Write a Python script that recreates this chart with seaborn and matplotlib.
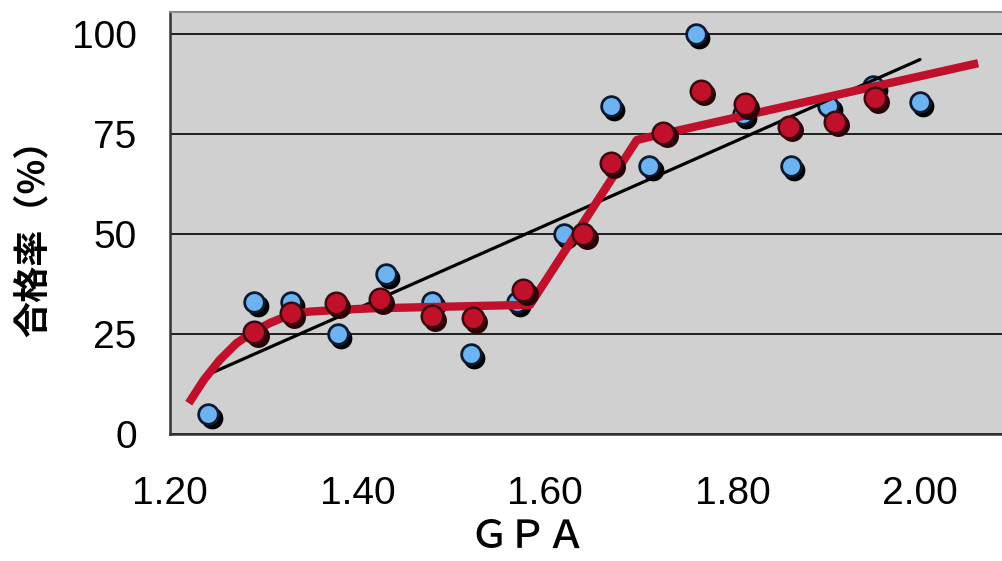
import matplotlib
matplotlib.use("agg")
import matplotlib.pyplot as plt
import matplotlib.transforms as mtransforms
from matplotlib import font_manager
import numpy as np
import pandas as pd
import seaborn as sns

# blue points (observed pass rate by GPA)
blue_gpa = [1.241, 1.290, 1.329, 1.379, 1.430, 1.479, 1.521, 1.570, 1.620,
            1.670, 1.711, 1.761, 1.811, 1.862, 1.902, 1.950, 2.000]
blue_rate = [5, 33, 33, 25, 40, 33, 20, 33, 50,
             82, 67, 100, 80, 67, 82, 87, 83]

# red points
red_gpa = [1.290, 1.329, 1.377, 1.424, 1.479, 1.523, 1.577, 1.641,
           1.670, 1.726, 1.766, 1.813, 1.860, 1.909, 1.952]
red_rate = [25.5, 30.2, 32.7, 33.7, 29.5, 28.9, 36.0, 49.9,
            67.7, 75.3, 85.8, 82.4, 76.8, 78.1, 83.9]

# thick red model curve
curve_gpa = [1.220, 1.236, 1.253, 1.271, 1.289, 1.307, 1.328, 1.349,
             1.378, 1.413, 1.584, 1.698, 1.712, 2.062]
curve_rate = [7.7, 13.5, 18.5, 22.7, 25.6, 27.8, 29.8, 30.6,
              31.0, 31.4, 32.3, 73.5, 74.3, 92.7]

x_ticks = [1.20, 1.40, 1.60, 1.80, 2.00]
y_ticks = [0, 25, 50, 75, 100]

blue = pd.DataFrame({"gpa": blue_gpa, "rate": blue_rate})
red = pd.DataFrame({"gpa": red_gpa, "rate": red_rate})
curve = pd.DataFrame({"gpa": curve_gpa, "rate": curve_rate})

sns.set_style("white")
names = {f.name for f in font_manager.fontManager.ttflist}
num_font = "Liberation Sans Narrow" if "Liberation Sans Narrow" in names else "Liberation Sans"
plt.rcParams["font.family"] = ["Noto Sans CJK JP", "DejaVu Sans"]
plt.rcParams["text.color"] = "black"
plt.rcParams["xtick.color"] = "black"
plt.rcParams["ytick.color"] = "black"

fig = plt.figure(figsize=(10.02, 5.61), dpi=100)
ax = fig.add_axes([170 / 1002, 127 / 561, 832 / 1002, 422 / 561])
ax.set_facecolor("#d0d0d0")

shadow = mtransforms.offset_copy(ax.transData, fig=fig, x=3.5, y=-3.5, units="dots")

# blue points with black drop shadow
sns.scatterplot(data=blue, x="gpa", y="rate", ax=ax, s=200, color="black",
                edgecolor="black", linewidth=1.5, transform=shadow, zorder=3)
sns.scatterplot(data=blue, x="gpa", y="rate", ax=ax, s=200, color="#6db3f2",
                edgecolor="#0c1a33", linewidth=2.0, zorder=3.1)

# linear fit of the blue points
sns.regplot(data=blue, x="gpa", y="rate", ax=ax, scatter=False, ci=None,
            truncate=True, line_kws={"color": "black", "linewidth": 2.3, "zorder": 4})

# red curve and red points
sns.lineplot(data=curve, x="gpa", y="rate", ax=ax, sort=False, color="#c0102c",
             lw=6, zorder=5, solid_capstyle="butt", solid_joinstyle="round")
sns.scatterplot(data=red, x="gpa", y="rate", ax=ax, s=240, color="#2a0508",
                edgecolor="#2a0508", linewidth=1, transform=shadow, zorder=6)
sns.scatterplot(data=red, x="gpa", y="rate", ax=ax, s=240, color="#c0102a",
                edgecolor="#3a0a0e", linewidth=1.8, zorder=6.1)

ax.set_xlim(1.2, 1.2 + 832 / 937.5)
ax.set_ylim(0, 105.5)
ax.set_xticks(x_ticks)
ax.set_xticklabels([f"{v:.2f}" for v in x_ticks], fontfamily=num_font, fontsize=28)
ax.set_yticks(y_ticks)
ax.set_yticklabels([str(v) for v in y_ticks], fontfamily=num_font, fontsize=28)
ax.tick_params(axis="x", direction="in", length=8, width=1.2, color="#333333", pad=30)
ax.tick_params(axis="y", length=0, pad=24)
ax.yaxis.grid(True, color="black", lw=1.2)
ax.xaxis.grid(False)
ax.set_axisbelow(True)
ax.set_xlabel("")
ax.set_ylabel("")

ax.spines["right"].set_visible(False)
ax.spines["top"].set_color("#8a8a8a")
ax.spines["top"].set_linewidth(1.5)
for side in ["left", "bottom"]:
    ax.spines[side].set_color("#333333")
    ax.spines[side].set_linewidth(1.8)

fig.text(33 / 1002, 1 - 229 / 561, "合格率（%）", rotation=90, ha="center", va="center",
         fontsize=26, fontweight="bold")
fig.text(528 / 1002, 4 / 561, "ＧＰＡ", ha="center", va="bottom", fontsize=28,
         fontweight="medium")

fig.savefig("out.png", dpi=100)
